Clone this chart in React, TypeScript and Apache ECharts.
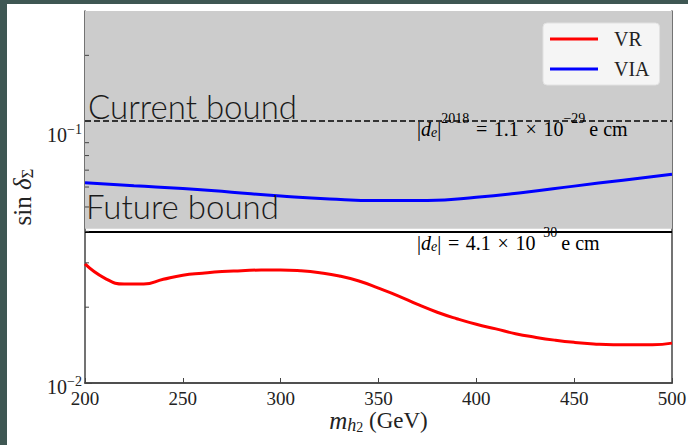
import React, { useEffect, useRef } from "react";
import * as echarts from "echarts";

const vrX = [200, 210, 220, 230, 240, 250, 260, 270, 280, 290, 300, 310, 320, 330, 340, 350, 360, 370, 380, 390, 400, 410, 420, 430, 440, 450, 460, 470, 480, 490, 500];
const vrY = [0.0297, 0.0261, 0.0247, 0.0247, 0.0258, 0.0268, 0.0273, 0.0277, 0.0279, 0.0281, 0.0281, 0.0279, 0.0274, 0.0266, 0.0254, 0.0238, 0.0222, 0.0205, 0.0191, 0.018, 0.0171, 0.0164, 0.0157, 0.0152, 0.0148, 0.0145, 0.0143, 0.0142, 0.0142, 0.0142, 0.0144];
const viaX = [200, 225, 250, 275, 300, 325, 350, 375, 400, 425, 450, 475, 500];
const viaY = [0.0624, 0.0607, 0.0592, 0.0572, 0.0553, 0.0538, 0.053, 0.0531, 0.0546, 0.0572, 0.0605, 0.0639, 0.0674];
const currentBound = 0.11;
const futureBound = 0.041;
const yMin = 0.01;
const yMax = 0.3;
const xTicks = [200, 250, 300, 350, 400, 450, 500];
const minorYTicks = [0.02, 0.03, 0.04, 0.05, 0.06, 0.07, 0.08, 0.09, 0.2];

const SERIF = "'Liberation Serif', 'DejaVu Serif', serif";
const SANS = "Lato, 'Open Sans', sans-serif";

export default function App() {
  const ref = useRef<HTMLDivElement>(null);
  useEffect(() => {
    if (!ref.current) return;
    const chart = echarts.init(ref.current, undefined, { renderer: "svg" });
    const grid = { left: 78, top: 7, width: 587, height: 372 };
    const mathRich = {
      n: { fontFamily: SERIF, fontSize: 20, color: "#222", lineHeight: 24, verticalAlign: "bottom" },
      i: { fontFamily: SERIF, fontSize: 20, fontStyle: "italic", color: "#222", lineHeight: 24, verticalAlign: "bottom" },
      sup: { fontFamily: SERIF, fontSize: 14, color: "#222", verticalAlign: "top", lineHeight: 28 },
      sub: { fontFamily: SERIF, fontSize: 14, fontStyle: "italic", color: "#222", verticalAlign: "bottom", lineHeight: 14 },
    };
    chart.setOption({
      animation: false,
      backgroundColor: "#ffffff",
      grid: { ...grid, show: false, outerBoundsMode: "none", containLabel: false },
      legend: {
        data: [
          { name: "VR", icon: "rect" },
          { name: "VIA", icon: "rect" },
        ],
        orient: "vertical",
        left: 536,
        top: 19,
        itemWidth: 48,
        itemHeight: 3,
        itemGap: 10,
        padding: [6, 10, 6, 7],
        backgroundColor: "#f5f5f5",
        borderColor: "#e2e2e2",
        borderWidth: 1,
        borderRadius: 4,
        textStyle: { fontFamily: SERIF, fontSize: 20, lineHeight: 20, color: "#222", padding: [0, 0, 0, 11] },
      },
      xAxis: [
        {
          type: "value",
          min: 200,
          max: 500,
          interval: 50,
          axisLine: { show: true, onZero: false, lineStyle: { color: "#444", width: 1.5 } },
          axisTick: { show: true, inside: true, length: 5, lineStyle: { color: "#444" } },
          axisLabel: {
            fontFamily: SERIF,
            fontSize: 19,
            color: "#222",
            margin: 6,
            formatter: (v: number) => (xTicks.includes(v) ? String(v) : ""),
          },
          splitLine: { show: false },
          name: "{i|m}{sub|h}{sub2|2}{n| (GeV)}",
          nameLocation: "middle",
          nameGap: 23,
          nameMoveOverlap: false,
          nameTextStyle: {
            rich: {
              n: { fontFamily: SERIF, fontSize: 23, color: "#222", lineHeight: 28 },
              i: { fontFamily: SERIF, fontSize: 25, fontStyle: "italic", color: "#222", lineHeight: 28 },
              sub: { fontFamily: SERIF, fontSize: 18, fontStyle: "italic", color: "#222", verticalAlign: "bottom", lineHeight: 18 },
              sub2: { fontFamily: SERIF, fontSize: 14, color: "#222", verticalAlign: "bottom", lineHeight: 12 },
            },
          },
        },
        {
          type: "value",
          position: "top",
          min: 200,
          max: 500,
          axisLine: { show: true, lineStyle: { color: "#444", width: 1.5 } },
          axisTick: { show: false },
          axisLabel: { show: false },
          splitLine: { show: false },
        },
      ],
      yAxis: [
        {
          type: "log",
          logBase: 10,
          min: yMin,
          max: yMax,
          axisLine: { show: true, onZero: false, lineStyle: { color: "#444", width: 1.5 } },
          axisTick: { show: true, inside: true, length: 7, lineStyle: { color: "#444" } },
          splitLine: { show: false },
          axisLabel: {
            margin: 3,
            padding: [7, 0, 0, 0],
            formatter: (v: number) => {
              const l = Math.log10(v);
              const r = Math.round(l);
              if (Math.abs(l - r) < 1e-6 && v < 0.2) return `{b|10}{s|−${-r}}`;
              return "";
            },
            rich: {
              b: { fontFamily: SERIF, fontSize: 20, color: "#222", lineHeight: 24 },
              s: { fontFamily: SERIF, fontSize: 14, color: "#222", verticalAlign: "top", lineHeight: 14 },
            },
          },
          name: "{n|sin }{i|δ}{sub|Σ}",
          nameLocation: "middle",
          nameRotate: 90,
          nameGap: 48,
          nameTextStyle: {
            rich: {
              n: { fontFamily: SERIF, fontSize: 25, color: "#222", lineHeight: 28 },
              i: { fontFamily: SERIF, fontSize: 25, fontStyle: "italic", color: "#222", lineHeight: 28 },
              sub: { fontFamily: SERIF, fontSize: 17, color: "#222", verticalAlign: "bottom", lineHeight: 16 },
            },
          },
        },
        {
          type: "value",
          position: "right",
          axisLine: { show: true, lineStyle: { color: "#444", width: 1.5 } },
          axisTick: { show: false },
          axisLabel: { show: false },
          splitLine: { show: false },
        },
      ],
      graphic: [
        {
          type: "text",
          left: 81,
          top: 85,
          z: 50,
          style: { text: "Current bound", fontFamily: SANS, fontWeight: 300, fontSize: 33, fill: "#1a1a1a" },
        },
        {
          type: "text",
          left: 79,
          top: 185,
          z: 50,
          style: { text: "Future bound", fontFamily: SANS, fontWeight: 300, fontSize: 33, fill: "#1a1a1a" },
        },
        {
          type: "text",
          left: 410,
          top: 107,
          z: 50,
          style: {
            text: "{n||}{i|d}{sub|e}{n||}{sup|2018}{n|\u200a = \u200a1.1\u200a × \u200a10}{sup|−29}{n|\u2009e cm}",
            rich: mathRich,
          },
        },
        {
          type: "text",
          left: 410,
          top: 221,
          z: 50,
          style: {
            text: "{n||}{i|d}{sub|e}{n||\u200a = \u200a4.1\u200a × \u200a10}{sup|−30}{n|\u2009e cm}",
            rich: mathRich,
          },
        },
      ],
      series: [
        {
          name: "regions",
          type: "line",
          data: [],
          z: 1,
          markArea: {
            silent: true,
            itemStyle: { color: "#cccccc" },
            data: [[{ yAxis: futureBound }, { yAxis: yMax }]],
          },
          markLine: {
            silent: true,
            symbol: "none",
            label: { show: false },
            data: [
              { yAxis: currentBound, lineStyle: { color: "#000", width: 1.5, type: [6, 3] } },
              { yAxis: futureBound, lineStyle: { color: "#000", width: 1.8, type: "solid" } },
            ],
          },
        },
        {
          name: "minorTicks",
          type: "custom",
          z: 5,
          silent: true,
          data: minorYTicks.map((v) => [200, v]),
          renderItem: (params: any, api: any) => {
            const p = api.coord([api.value(0), api.value(1)]);
            return {
              type: "line",
              shape: { x1: p[0], y1: p[1], x2: p[0] + 4, y2: p[1] },
              style: { stroke: "#444", lineWidth: 1 },
            };
          },
        },
        {
          name: "VR",
          type: "line",
          z: 3,
          data: vrX.map((x, i) => [x, vrY[i]]),
          showSymbol: false,
          symbol: "none",
          smooth: 0.5,
          lineStyle: { color: "#ff0000", width: 3 },
          itemStyle: { color: "#ff0000" },
        },
        {
          name: "VIA",
          type: "line",
          z: 3,
          data: viaX.map((x, i) => [x, viaY[i]]),
          showSymbol: false,
          symbol: "none",
          smooth: 0.5,
          lineStyle: { color: "#0000ff", width: 3 },
          itemStyle: { color: "#0000ff" },
        },
      ],
    });
    return () => chart.dispose();
  }, []);
  return (
    <div style={{ position: "fixed", left: 0, top: 0, width: 688, height: 445, background: "#3e5753", overflow: "hidden" }}>
      <div ref={ref} style={{ position: "absolute", left: 7, top: 4, width: 681, height: 441, background: "#fff" }} />
    </div>
  );
}
